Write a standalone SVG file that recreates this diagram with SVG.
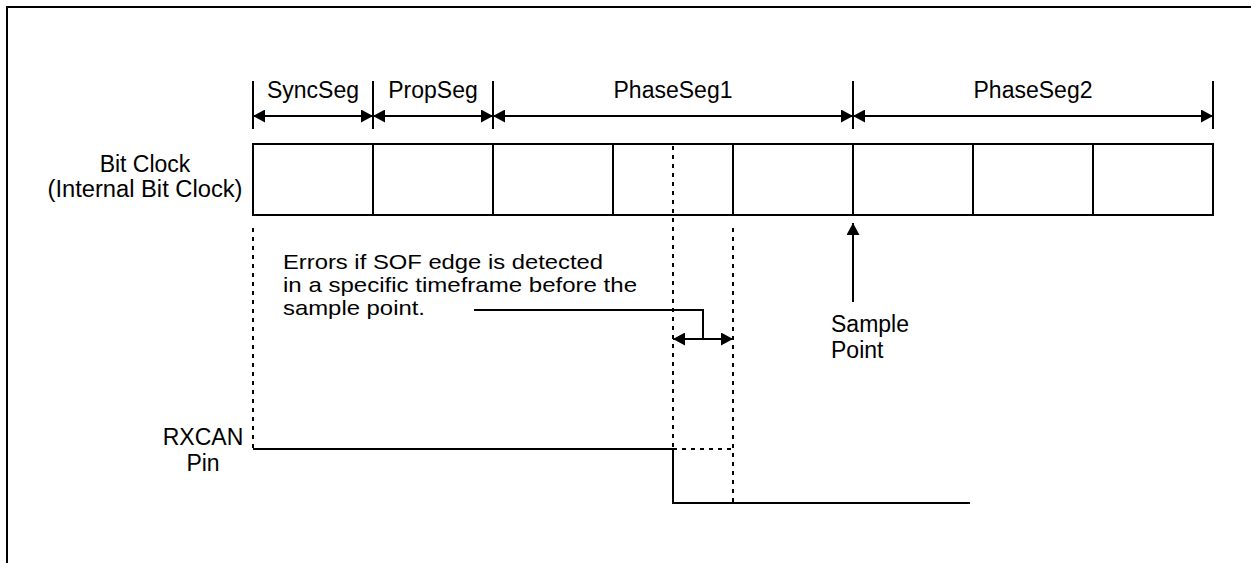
<svg xmlns="http://www.w3.org/2000/svg" width="1251" height="563" viewBox="0 0 1251 563">
<style>
.t{font-family:"Liberation Sans",Arial,sans-serif;font-size:23px;fill:#000}
.n{font-family:"Liberation Sans",Arial,sans-serif;font-size:21px;fill:#000}
.m{text-anchor:middle}
.s{stroke:#000;stroke-width:2;fill:none}
.d{stroke:#000;stroke-width:2;fill:none;stroke-dasharray:4 5}
</style>
<defs>
<marker id="ah" viewBox="0 0 12 13" refX="12" refY="6.5" markerWidth="12" markerHeight="13" markerUnits="userSpaceOnUse" orient="auto-start-reverse">
<path d="M0,0 L12,6.5 L0,13 z" fill="#000"/>
</marker>
</defs>
<rect width="1251" height="563" fill="#fff"/>
<g id="frame">
<path class="s" d="M7,563 V7 H1251"/>
</g>
<g id="segments">
<path class="s" d="M253,81 V129 M373,81 V129 M493,81 V129 M853,81 V129 M1213,81 V129"/>
<text class="t m" x="313" y="98">SyncSeg</text>
<text class="t m" x="433" y="98">PropSeg</text>
<text class="t m" x="673" y="98">PhaseSeg1</text>
<text class="t m" x="1033" y="98">PhaseSeg2</text>
</g>
<g id="bitclock">
<rect class="s" x="253" y="144" width="960" height="71"/>
<path class="s" d="M373,144 V215 M493,144 V215 M613,144 V215 M733,144 V215 M853,144 V215 M973,144 V215 M1093,144 V215"/>
<text class="t m" x="145" y="172">Bit Clock</text>
<text class="t m" x="145" y="197" textLength="195" lengthAdjust="spacingAndGlyphs">(Internal Bit Clock)</text>
</g>
<g id="errors-note">
<text class="n" x="283" y="269" textLength="320" lengthAdjust="spacingAndGlyphs">Errors if SOF edge is detected</text>
<text class="n" x="283" y="292" textLength="354" lengthAdjust="spacingAndGlyphs">in a specific timeframe before the</text>
<text class="n" x="283" y="315" textLength="142" lengthAdjust="spacingAndGlyphs">sample point.</text>
</g>
<g id="sample-point">
<text class="t" x="831" y="332">Sample</text>
<text class="t" x="831" y="358">Point</text>
</g>
<g id="rxcan">
<text class="t m" x="203" y="445">RXCAN</text>
<text class="t m" x="203" y="471">Pin</text>
<path class="s" d="M253,449 H673 V503 H970"/>
</g>
<g id="connectors">
<line class="s" x1="253" y1="116" x2="373" y2="116" marker-start="url(#ah)" marker-end="url(#ah)"/>
<line class="s" x1="373" y1="116" x2="493" y2="116" marker-start="url(#ah)" marker-end="url(#ah)"/>
<line class="s" x1="493" y1="116" x2="853" y2="116" marker-start="url(#ah)" marker-end="url(#ah)"/>
<line class="s" x1="853" y1="116" x2="1213" y2="116" marker-start="url(#ah)" marker-end="url(#ah)"/>
<line class="s" x1="853" y1="302" x2="853" y2="223" marker-end="url(#ah)"/>
<path class="s" d="M474,310 H703 V339"/>
<line class="s" x1="673" y1="339" x2="733" y2="339" marker-start="url(#ah)" marker-end="url(#ah)"/>
<path class="d" d="M253,228 V449 M673,146 V449 M733,228 V503 M673,449 H733"/>
</g>
</svg>
